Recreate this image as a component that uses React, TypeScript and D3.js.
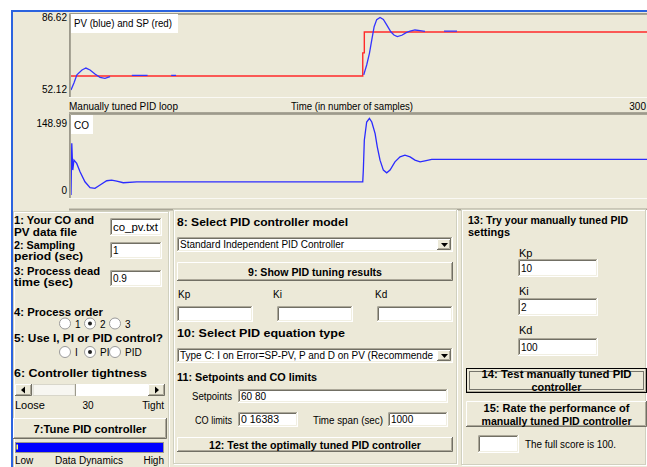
import * as d3 from "d3";

// ---- data ----
const setpoints = [60, 80];
const pvRange = [52.12, 86.62];
const coRange = [0, 148.99];
const sampleRange = [0, 300];

// PV (sample, value)
const pvPoints: [number, number][] = [
  [0, 53.6], [1.5, 56.8], [3, 60.5], [5.6, 62.7], [7.6, 63.6], [9.7, 62.7], [12.2, 60.9],
  [14.8, 59.4], [17.3, 58.95], [19.9, 59.7], [21.4, 60], [30, 60], [31, 60.3], [39, 60.3],
  [40, 60], [50, 60], [51, 60.3], [53.5, 60.3], [54.5, 60], [148.6, 60],
  [149.1, 60.5], [150.6, 65], [152, 70.3], [153.2, 76.4], [154.4, 82.4], [155.7, 85.6],
  [157.4, 86.6], [159.1, 85.7], [160.8, 83.2], [162.9, 80.1], [164.5, 78.6], [166.2, 77.9],
  [168.5, 78.5], [170.7, 79.7], [172.7, 80.4], [175.2, 80.9], [177.8, 80.6], [180.3, 80.3],
  [181.5, 80], [189, 80], [190, 80.4], [196.6, 80.4], [197.5, 80], [300, 80],
];

// SP (sample, value)
const spPoints: [number, number][] = [
  [0, 60], [148.6, 60], [148.6, 70.5], [149.4, 70.5], [149.4, 80], [300, 80],
];

// CO (sample, value)
const coPoints: [number, number][] = [
  [0, 0], [0.4, 100.6], [0.9, 48.4], [1.5, 67.7], [2.9, 61.3], [4.6, 45.1], [7.1, 25.7],
  [9.7, 14.1], [12.2, 13], [14.8, 19.4], [18.2, 27.7], [20.7, 29], [23.3, 27.1], [26.6, 23.8],
  [33.5, 25.5], [148.6, 25.5], [148.9, 48.4], [149.4, 106.4], [150.6, 141.8], [152, 148.99],
  [153.2, 141.8], [154.9, 119.4], [156, 93.5], [157.4, 67.7], [159.1, 48.4], [160.8, 43.1],
  [162.5, 48.4], [165, 64.4], [167.6, 74.1], [170.1, 77.4], [172.7, 74.1], [175.2, 67.7],
  [177.8, 64.4], [180.3, 66.4], [183.7, 69.1], [300, 69.1],
];

const FONT = "'Liberation Sans', Arial, sans-serif";
const BG = "#ECE9D8";

function Txt({ x, y, children, bold = false, anchor = "start", size, w }: any) {
  return (
    <text x={x} y={y} fontFamily={FONT} fontSize={size ?? (bold ? 11 : 10)} fontWeight={bold ? "bold" : "normal"}
      textAnchor={anchor} fill="#000" textLength={w} lengthAdjust={w ? "spacingAndGlyphs" : undefined}>{children}</text>
  );
}

function TextBox({ x, y, w, h, text, tw }: any) {
  return (
    <g>
      <rect x={x} y={y} width={w} height={h} fill="#fff" />
      <path d={`M${x + 0.5},${y + h} V${y + 0.5} H${x + w}`} stroke="#ACA899" fill="none" />
      <path d={`M${x + 1.5},${y + h - 1} V${y + 1.5} H${x + w - 1}`} stroke="#716F64" fill="none" />
      <path d={`M${x},${y + h - 0.5} H${x + w - 0.5} V${y}`} stroke="#fff" fill="none" />
      <path d={`M${x + 1},${y + h - 1.5} H${x + w - 1.5} V${y + 1}`} stroke="#F1EFE2" fill="none" />
      {text != null && <Txt x={x + 3} y={y + h / 2 + 3.6} w={tw}>{text}</Txt>}
    </g>
  );
}

function Raised({ x, y, w, h }: any) {
  return (
    <g>
      <rect x={x} y={y} width={w} height={h} fill={BG} />
      <path d={`M${x + 0.5},${y + h} V${y + 0.5} H${x + w}`} stroke="#fff" fill="none" />
      <path d={`M${x},${y + h - 0.5} H${x + w - 0.5} V${y}`} stroke="#716F64" fill="none" />
      <path d={`M${x + 1},${y + h - 1.5} H${x + w - 1.5} V${y + 1}`} stroke="#ACA899" fill="none" />
    </g>
  );
}

function Button({ x, y, w, h, lines, widths = [], focused = false }: any) {
  const cx = x + w / 2;
  const n = lines.length;
  return (
    <g>
      <Raised x={x} y={y} w={w} h={h} />
      {focused && <rect x={x + 0.5} y={y + 0.5} width={w - 1} height={h - 1} fill="none" stroke="#000" />}
      {focused && <rect x={x + 3.5} y={y + 3.5} width={w - 7} height={h - 7} fill="none" stroke="#000" strokeDasharray="1,1" />}
      {lines.map((l: string, i: number) => (
        <Txt key={i} x={cx} y={y + h / 2 + 4 + (i - (n - 1) / 2) * 13} bold anchor="middle" w={widths[i]}>{l}</Txt>
      ))}
    </g>
  );
}

function Combo({ x, y, w, h, text, tw }: any) {
  return (
    <g>
      <TextBox x={x} y={y} w={w} h={h} text={text} tw={tw} />
      <Raised x={x + w - 16} y={y + 2} w={14} h={h - 4} />
      <path d={`M${x + w - 12},${y + h / 2 - 1.5} h7 l-3.5,4 z`} fill="#000" />
    </g>
  );
}

function Radio({ x, y, label, on }: any) {
  return (
    <g>
      <circle cx={x} cy={y} r={5.5} fill="#fff" stroke="#9A9A9A" />
      {on && <circle cx={x} cy={y} r={2} fill="#222" />}
      <Txt x={x + 10} y={y + 4}>{label}</Txt>
    </g>
  );
}

function Group({ x, y, w, h }: any) {
  return (
    <g fill="none">
      <rect x={x + 1.5} y={y + 1.5} width={w} height={h} stroke="#fff" />
      <rect x={x + 0.5} y={y + 0.5} width={w} height={h} stroke="#D0D0BF" />
    </g>
  );
}

export default function App() {
  const x = d3.scaleLinear().domain(sampleRange).range([71, 660]);
  const yPv = d3.scaleLinear().domain(pvRange).range([93.3, 17.4]);
  const yCo = d3.scaleLinear().domain(coRange).range([195, 118.3]);

  const spLine = d3.line<[number, number]>().x((d) => x(d[0])).y((d) => yPv(d[1]));
  // PV is hidden under SP wherever it sits exactly on a setpoint
  const pvOff = d3.line<[number, number]>().defined((d) => !setpoints.includes(d[1])).x((d) => x(d[0])).y((d) => yPv(d[1]));
  const coLine = d3.line<[number, number]>().x((d) => x(d[0])).y((d) => yCo(d[1]));

  const plotFrame = (top: number, bottom: number) => (
    <g>
      <rect x={69} y={top} width={600} height={bottom - top} fill={BG} />
      <path d={`M69.5,${bottom} V${top + 0.5} H660`} stroke="#9D9A8C" fill="none" />
      <path d={`M70.5,${bottom} V${top + 1.5} H660`} stroke="#A8A596" fill="none" />
      <line x1={69} x2={660} y1={bottom + 0.5} y2={bottom + 0.5} stroke="#FAF9F4" />
    </g>
  );

  return (
    <svg width={647} height={467} style={{ position: "fixed", left: 0, top: 0 }}>
      <defs>
        <clipPath id="c1"><rect x={71} y={14} width={580} height={83} /></clipPath>
        <clipPath id="c2"><rect x={71} y={115} width={580} height={83} /></clipPath>
      </defs>
      <rect width={647} height={467} fill="#fff" />
      <rect x={11} y={10} width={640} height={460} fill={BG} />
      <line x1={11} x2={647} y1={11} y2={11} stroke="#2B63DF" strokeWidth={2} />
      <line x1={12} x2={12} y1={10} y2={467} stroke="#2B63DF" strokeWidth={2} />

      {/* PV / SP chart */}
      {plotFrame(13, 97)}
      <rect x={71} y={14} width={107} height={19} fill="#fff" />
      <Txt x={74} y={27} w={98}>PV (blue) and SP (red)</Txt>
      <g clipPath="url(#c1)" fill="none">
        <path d={spLine(spPoints) ?? ""} stroke="#FF2A2A" strokeWidth={1.4} />
        <path d={pvOff(pvPoints) ?? ""} stroke="#3434FF" strokeWidth={1.3} />
      </g>
      <Txt x={67} y={yPv(pvRange[1]) + 4} anchor="end">{pvRange[1].toFixed(2)}</Txt>
      <Txt x={67} y={yPv(pvRange[0]) - 0.5} anchor="end">{pvRange[0].toFixed(2)}</Txt>
      <Txt x={69} y={110} w={109}>Manually tuned PID loop</Txt>
      <Txt x={291} y={110} w={122}>Time (in number of samples)</Txt>
      <Txt x={646} y={110} anchor="end">{sampleRange[1]}</Txt>

      {/* CO chart */}
      <line x1={69} x2={647} y1={112.5} y2={112.5} stroke="#A8A596" strokeWidth={1} />
      {plotFrame(113, 198)}
      <rect x={71} y={115} width={22} height={19} fill="#fff" />
      <Txt x={74} y={129}>CO</Txt>
      <g clipPath="url(#c2)" fill="none">
        <path d={coLine(coPoints) ?? ""} stroke="#2B2BFF" strokeWidth={1.3} />
      </g>
      <Txt x={67} y={yCo(coRange[1]) + 8.5} anchor="end">{coRange[1].toFixed(2)}</Txt>
      <Txt x={67} y={yCo(coRange[0]) - 1} anchor="end">{coRange[0]}</Txt>
      <line x1={69} x2={647} y1={209.5} y2={209.5} stroke="#A8A596" strokeWidth={2} />

      {/* panel 1 */}
      <Group x={13} y={211} w={155} h={260} />
      <Txt x={14} y={224} bold w={80}>1: Your CO and</Txt>
      <Txt x={14} y={235.5} bold w={63}>PV data file</Txt>
      <TextBox x={110} y={218} w={52} h={18} text="co_pv.txt" tw={45} />
      <Txt x={14} y={249} bold w={61}>2: Sampling</Txt>
      <Txt x={14} y={259.5} bold w={69}>period (sec)</Txt>
      <TextBox x={110} y={242} w={52} h={17} text="1" />
      <Txt x={14} y={275} bold w={86}>3: Process dead</Txt>
      <Txt x={14} y={285.5} bold w={59}>time (sec)</Txt>
      <TextBox x={110} y={270} w={52} h={17} text="0.9" />
      <Txt x={14} y={315.5} bold w={89}>4: Process order</Txt>
      <Radio x={65} y={323.5} label="1" on={false} />
      <Radio x={90} y={323.5} label="2" on />
      <Radio x={115} y={323.5} label="3" on={false} />
      <Txt x={14} y={342} bold w={149}>5: Use I, PI or PID control?</Txt>
      <Radio x={65} y={352} label="I" on={false} />
      <Radio x={90} y={352} label="PI" on />
      <Radio x={115} y={352} label="PID" on={false} />
      <Txt x={14} y={377} bold w={133}>6: Controller tightness</Txt>
      <rect x={15} y={384} width={150} height={12} fill="#fff" />
      <Raised x={15} y={384} w={17} h={12} />
      <path d="M21,390 l4,-3.5 v7 z" fill="#000" />
      <Raised x={148} y={384} w={17} h={12} />
      <path d="M159,390 l-4,-3.5 v7 z" fill="#000" />
      <rect x={33} y={384.5} width={42} height={11} fill="#F7F6F1" stroke="#D8D6CA" />
      <line x1={75.5} x2={75.5} y1={384} y2={396} stroke="#9D9A8C" />
      <Txt x={15} y={409} w={30}>Loose</Txt>
      <Txt x={88} y={409} anchor="middle">30</Txt>
      <Txt x={164} y={409} anchor="end">Tight</Txt>
      <Button x={13} y={418} w={154} h={21} lines={["7:Tune PID controller"]} widths={[113]} />
      <rect x={15.5} y={442.5} width={148} height={10} fill="#0000FF" stroke="#9D9A8C" />
      <rect x={16.5} y={444.5} width={1.5} height={5} fill="#FFFF66" />
      <Txt x={15} y={464}>Low</Txt>
      <Txt x={89} y={464} anchor="middle" w={68}>Data Dynamics</Txt>
      <Txt x={164} y={464} anchor="end">High</Txt>

      {/* panel 2 */}
      <Group x={173} y={209} w={283} h={254} />
      <Txt x={177} y={225.5} bold w={171}>8: Select PID controller model</Txt>
      <Combo x={177} y={237} w={276} h={15} text="Standard Independent PID Controller" tw={164} />
      <Button x={177} y={262} w={276} h={19} lines={["9: Show PID tuning results"]} widths={[134]} />
      <Txt x={178} y={298}>Kp</Txt>
      <Txt x={273} y={298}>Ki</Txt>
      <Txt x={375} y={298}>Kd</Txt>
      <TextBox x={177} y={306} w={76} h={16} />
      <TextBox x={277} y={306} w={76} h={16} />
      <TextBox x={377} y={306} w={76} h={16} />
      <Txt x={177} y={337} bold w={168}>10: Select PID equation type</Txt>
      <Combo x={177} y={348} w={276} h={15} text="Type C: I on Error=SP-PV, P and D on PV (Recommende" tw={253} />
      <Txt x={177} y={380.5} bold w={140}>11: Setpoints and CO limits</Txt>
      <Txt x={232} y={399.5} anchor="end" w={40}>Setpoints</Txt>
      <TextBox x={238} y={389} w={210} h={14} text={setpoints.join(" ")} />
      <Txt x={232} y={423.5} anchor="end" w={37}>CO limits</Txt>
      <TextBox x={238} y={412} w={60} h={15} text="0 16383" tw={38} />
      <Txt x={383} y={423.5} anchor="end" w={70}>Time span (sec)</Txt>
      <TextBox x={388} y={412} w={60} h={15} text="1000" />
      <Button x={177} y={437} w={276} h={15} lines={["12: Test the optimally tuned PID controller"]} widths={[212]} />

      {/* panel 3 */}
      <Group x={461} y={209} w={184} h={255} />
      <Txt x={468} y={224} bold w={160}>13: Try your manually tuned PID</Txt>
      <Txt x={468} y={236} bold w={42}>settings</Txt>
      <Txt x={519} y={257} size={11}>Kp</Txt>
      <TextBox x={518} y={259} w={80} h={18} text="10" />
      <Txt x={519} y={295} size={11}>Ki</Txt>
      <TextBox x={518} y={298} w={80} h={18} text="2" />
      <Txt x={519} y={334} size={11}>Kd</Txt>
      <TextBox x={518} y={338} w={80} h={18} text="100" />
      <Button x={466} y={368} w={181} h={25} lines={["14: Test manually tuned PID", "controller"]} widths={[150, 50]} focused />
      <Button x={466} y={401} w={181} h={26} lines={["15: Rate the performance of", "manually tuned PID controller"]} widths={[146, 150]} />
      <TextBox x={478} y={435} w={41} h={18} />
      <Txt x={525} y={448} w={91}>The full score is 100.</Txt>
    </svg>
  );
}
